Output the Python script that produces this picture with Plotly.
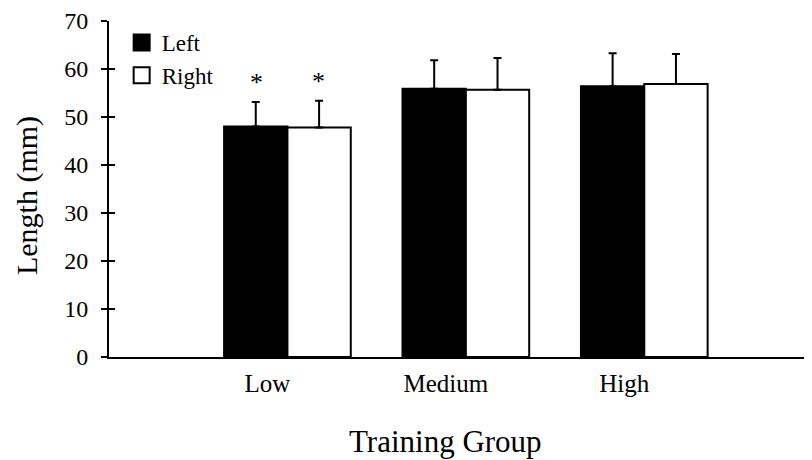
import plotly.graph_objects as go

groups = ["Low", "Medium", "High"]
left_mean = [48.0, 55.9, 56.4]
left_sd = [5.1, 5.9, 6.9]
right_mean = [47.8, 55.7, 56.9]
right_sd = [5.6, 6.6, 6.2]
significant = [True, False, False]
series_names = ["Left", "Right"]
y_ticks = [0, 10, 20, 30, 40, 50, 60, 70]

FONT = "Liberation Serif, Times New Roman, serif"

fig = go.Figure()
err_style = dict(type="data", symmetric=False, color="black", thickness=2, width=4)
fig.add_trace(go.Bar(
    x=groups, y=left_mean, name=series_names[0], showlegend=False,
    marker=dict(color="black", line=dict(color="black", width=2)),
    error_y=dict(array=left_sd, arrayminus=[0] * len(groups), **err_style),
))
fig.add_trace(go.Bar(
    x=groups, y=right_mean, name=series_names[1], showlegend=False,
    marker=dict(color="white", line=dict(color="black", width=2)),
    error_y=dict(array=right_sd, arrayminus=[0] * len(groups), **err_style),
))
# legend proxies
fig.add_trace(go.Scatter(x=[None], y=[None], mode="markers", name=series_names[0],
                         legendgroup="a",
                         marker=dict(symbol="square", size=16, color="black",
                                     line=dict(color="black", width=2))))
fig.add_trace(go.Scatter(x=[None], y=[None], mode="markers", name=series_names[1],
                         legendgroup="b",
                         marker=dict(symbol="square", size=16, color="white",
                                     line=dict(color="black", width=2))))

# significance asterisks
annotations = []
for i, g in enumerate(groups):
    if significant[i]:
        for mean, sd, shift in ((left_mean[i], left_sd[i], -31), (right_mean[i], right_sd[i], 31)):
            annotations.append(dict(x=g, y=mean + sd, xref="x", yref="y", text="*",
                                    showarrow=False, xshift=shift, yshift=3,
                                    yanchor="bottom",
                                    font=dict(family=FONT, size=26, color="black")))

annotations.append(dict(text="Training Group", xref="paper", yref="paper", x=0.478, y=-0.25,
                        xanchor="center", yanchor="middle", showarrow=False,
                        font=dict(family=FONT, size=31, color="black")))
annotations.append(dict(text="Length (mm)", xref="paper", yref="paper", x=-0.1166, y=0.479,
                        xanchor="center", yanchor="middle", showarrow=False, textangle=-90,
                        font=dict(family=FONT, size=30, color="black")))

fig.update_layout(
    width=804, height=452,
    margin=dict(l=101, r=0, t=13, b=103),
    paper_bgcolor="white", plot_bgcolor="white",
    barmode="group", bargap=0.29, bargroupgap=0,
    font=dict(family=FONT, size=23, color="black"),
    showlegend=True,
    legend=dict(x=0.018, y=1.0, xanchor="left", yanchor="top",
                bgcolor="rgba(0,0,0,0)", itemsizing="trace", tracegroupgap=0,
                font=dict(family=FONT, size=23, color="black")),
    xaxis=dict(range=[-1.0, 2.94], showline=True, linecolor="black", linewidth=2,
               ticks="", showgrid=False, zeroline=False, ticklabelshift=-20,
               ticklabelstandoff=3, tickfont=dict(family=FONT, size=25)),
    yaxis=dict(range=[0, 70], tickvals=y_ticks, showline=True, linecolor="black", linewidth=2,
               ticks="outside", ticklen=6, tickwidth=2, tickcolor="black",
               showgrid=False, zeroline=False, ticklabelstandoff=8,
               tickfont=dict(family=FONT, size=24)),
    yaxis2=dict(range=[0, 70], tickvals=y_ticks, overlaying="y", side="left",
                showline=False, ticks="inside", ticklen=6, tickwidth=2, tickcolor="black",
                showticklabels=False, showgrid=False, zeroline=False),
    annotations=annotations,
)
fig.add_trace(go.Scatter(x=[None], y=[None], yaxis="y2", showlegend=False, hoverinfo="skip"))

fig.write_html("out.html")
